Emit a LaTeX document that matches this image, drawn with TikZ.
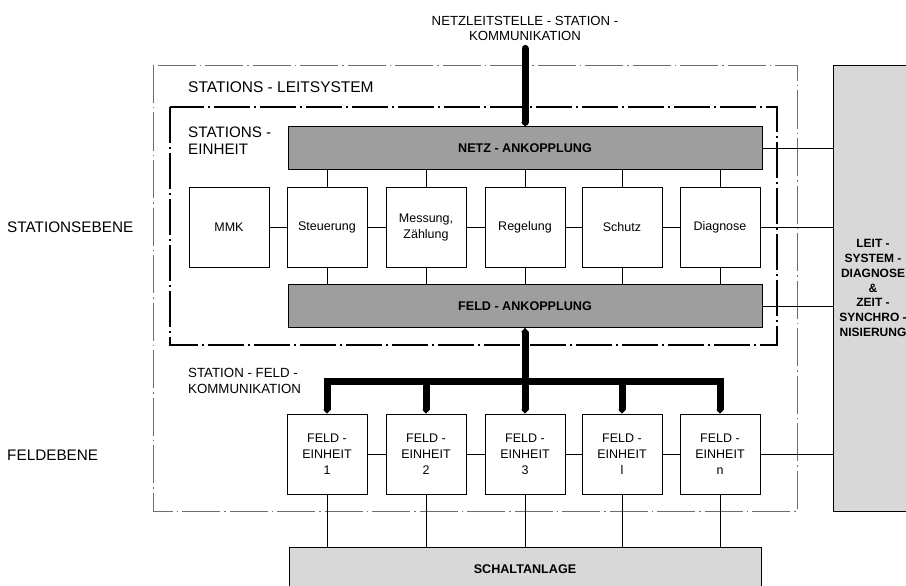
\documentclass[tikz,border=0pt]{standalone}
\usepackage{fontspec}
\setmainfont{Liberation Sans}
\usetikzlibrary{arrows.meta,positioning,calc}

\definecolor{bargray}{HTML}{9E9E9E}
\definecolor{lightgray}{HTML}{D8D8D8}
\definecolor{framegray}{HTML}{6E6E6E}

\tikzset{
    unitbox/.style={draw, line width=0.8pt, minimum width=80pt, minimum height=80pt, inner sep=0pt, align=center, font=\fontsize{12.5}{16}\selectfont},
    koppbar/.style={draw, line width=0.9pt, fill=bargray, minimum width=474pt, minimum height=43pt, inner sep=0pt, font=\bfseries\fontsize{12.6}{14}\selectfont},
    conn/.style={line width=0.8pt},
    bus/.style={line width=7pt, {Triangle[length=4pt,width=7.5pt]}-{Triangle[length=4pt,width=7.5pt]}},
    lbl/.style={anchor=west, align=left, inner sep=0pt}
}

\begin{document}
\begin{tikzpicture}[x=1pt, y=-1pt]
    \useasboundingbox (0,0) rectangle (906,586);
    % frames
    \draw[framegray, line width=0.8pt, dash pattern=on 38pt off 4pt on 1.5pt off 4pt] (153,65) rectangle (797,511);
    \draw[line width=2.4pt, dash pattern=on 36pt off 4pt on 2pt off 4pt] (170,107) rectangle (777,345);

    % labels
    \node[lbl, font=\fontsize{15.3}{17}\selectfont] (stebene) at (7,227) {STATIONSEBENE};
    \node[lbl, font=\fontsize{15.3}{17}\selectfont] (fdebene) at (7,455) {FELDEBENE};
    \node[lbl, font=\fontsize{15.5}{18}\selectfont] (slsys) at (188,87) {STATIONS - LEITSYSTEM};
    \node[lbl, font=\fontsize{15.2}{17}\selectfont] (seinh) at (188,141) {STATIONS -\\EINHEIT};
    \node[lbl, font=\fontsize{13.3}{16}\selectfont] (sfkomm) at (188,381) {STATION - FELD -\\KOMMUNIKATION};
    \node[align=center, inner sep=0pt, font=\fontsize{13.2}{15}\selectfont] (nlskomm) at (525,28) {NETZLEITSTELLE - STATION -\\KOMMUNIKATION};

    % stationseinheit
    \node[koppbar] (netzank) at (525,148) {NETZ - ANKOPPLUNG};
    \node[koppbar] (feldank) at (525,306) {FELD - ANKOPPLUNG};
    \node[unitbox] (mmk) at (229,227) {MMK};
    \node[unitbox] (steu) at (327,227) {Steuerung};
    \node[unitbox] (mess) at (426,227) {Messung,\\Zählung};
    \node[unitbox] (regel) at (525,227) {Regelung};
    \node[unitbox] (schutz) at (622,227) {Schutz};
    \node[unitbox] (diag) at (720,227) {Diagnose};

    % feldeinheiten
    \foreach \i/\x/\n in {1/327/1, 2/426/2, 3/525/3, 4/622/l, 5/720/n}
        \node[unitbox] (feld\i) at (\x,454) {FELD -\\EINHEIT\\\n};

    % right box and schaltanlage
    \node[draw, line width=0.9pt, fill=lightgray, minimum width=80pt, minimum height=446pt, inner sep=0pt, align=center, font=\bfseries\fontsize{12}{14.8}\selectfont] (leit) at (873,288) {LEIT -\\SYSTEM -\\DIAGNOSE\\\&\\ZEIT -\\SYNCHRO -\\NISIERUNG};
    \node[draw, line width=0.9pt, fill=lightgray, minimum width=472pt, minimum height=44pt, inner sep=0pt, font=\bfseries\fontsize{12.6}{14}\selectfont] (schalt) at (525,569) {SCHALTANLAGE};

    % thin connectors
    \foreach \a/\b in {mmk/steu, steu/mess, mess/regel, regel/schutz, schutz/diag, feld1/feld2, feld2/feld3, feld3/feld4, feld4/feld5}
        \draw[conn] (\a.east) -- (\b.west);
    \foreach \u in {steu, mess, regel, schutz, diag} {
        \draw[conn] (\u.north) -- (\u.north |- netzank.south);
        \draw[conn] (\u.south) -- (\u.south |- feldank.north);
    }
    \foreach \i in {1,...,5}
        \draw[conn] (feld\i.south) -- (feld\i.south |- schalt.north);
    \foreach \s in {netzank, diag, feldank, feld5}
        \draw[conn] (\s.east) -- (\s.east -| leit.west);

    % thick communication bus
    \coordinate (buslvl) at (0,381);
    \draw[line width=7pt, line cap=round, -{Triangle[length=4pt,width=7.5pt]}] ($(nlskomm.south)+(0,8)$) -- (netzank.north);
    \draw[bus] (feldank.south) -- (feld3.north);
    \draw[bus, line join=miter] (feld1.north) -- (feld1.north |- buslvl) -- (feld5.north |- buslvl) -- (feld5.north);
    \draw[line width=7pt, -{Triangle[length=4pt,width=7.5pt]}] (feld2.north |- buslvl) -- (feld2.north);
    \draw[line width=7pt, -{Triangle[length=4pt,width=7.5pt]}] (feld4.north |- buslvl) -- (feld4.north);
\end{tikzpicture}
\end{document}
